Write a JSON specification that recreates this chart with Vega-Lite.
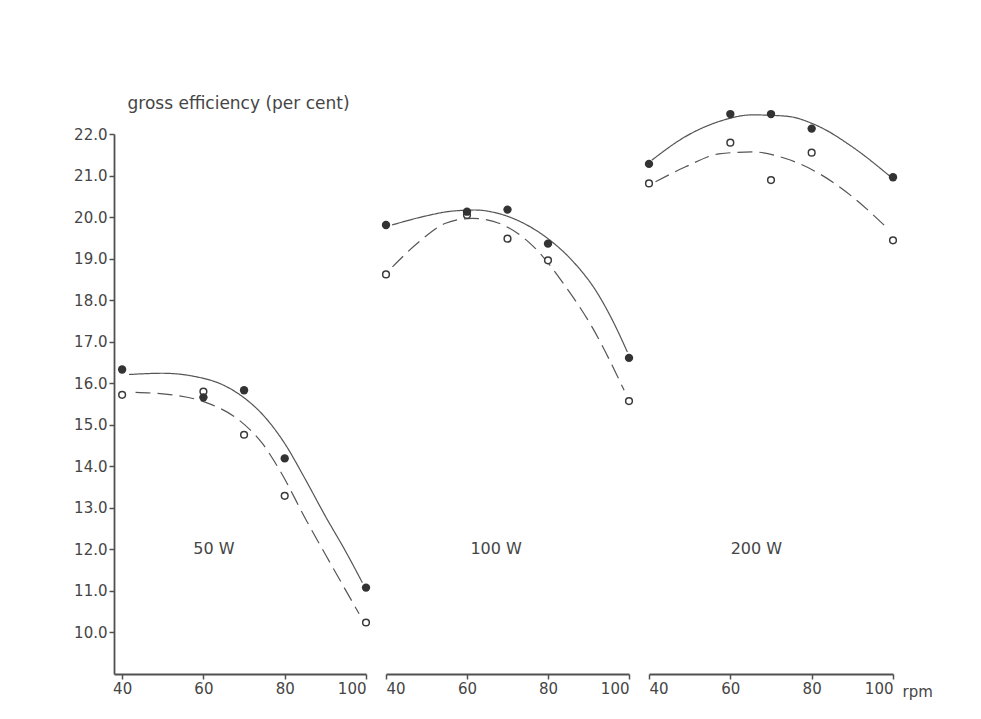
{
  "$schema": "https://vega.github.io/schema/vega-lite/v6.json",
  "background": "white",
  "padding": {"left": 73, "top": 94, "right": 5, "bottom": 5},
  "spacing": 20,
  "bounds": "flush",
  "config": {
    "view": {"stroke": null},
    "font": "DejaVu Sans",
    "axis": {
      "grid": false,
      "domainColor": "#505050",
      "domainWidth": 1.8,
      "tickColor": "#505050",
      "tickWidth": 1.5,
      "tickSize": 5,
      "labelFont": "DejaVu Sans",
      "labelFontSize": 15,
      "labelColor": "#454545",
      "labelPadding": 2,
      "titleFontWeight": "normal",
      "titleColor": "#454545"
    }
  },
  "datasets": {
    "pts": [
      {"panel": 1, "type": "filled", "rpm": 40, "eff": 16.33},
      {"panel": 1, "type": "filled", "rpm": 60, "eff": 15.66},
      {"panel": 1, "type": "filled", "rpm": 70, "eff": 15.83},
      {"panel": 1, "type": "filled", "rpm": 80, "eff": 14.19},
      {"panel": 1, "type": "filled", "rpm": 100, "eff": 11.08},
      {"panel": 1, "type": "open", "rpm": 40, "eff": 15.72},
      {"panel": 1, "type": "open", "rpm": 60, "eff": 15.8},
      {"panel": 1, "type": "open", "rpm": 70, "eff": 14.76},
      {"panel": 1, "type": "open", "rpm": 80, "eff": 13.29},
      {"panel": 1, "type": "open", "rpm": 100, "eff": 10.24},
      {"panel": 2, "type": "filled", "rpm": 40, "eff": 19.81},
      {"panel": 2, "type": "filled", "rpm": 60, "eff": 20.13},
      {"panel": 2, "type": "filled", "rpm": 70, "eff": 20.18},
      {"panel": 2, "type": "filled", "rpm": 80, "eff": 19.36},
      {"panel": 2, "type": "filled", "rpm": 100, "eff": 16.61},
      {"panel": 2, "type": "open", "rpm": 40, "eff": 18.62},
      {"panel": 2, "type": "open", "rpm": 60, "eff": 20.05},
      {"panel": 2, "type": "open", "rpm": 70, "eff": 19.48},
      {"panel": 2, "type": "open", "rpm": 80, "eff": 18.96},
      {"panel": 2, "type": "open", "rpm": 100, "eff": 15.57},
      {"panel": 3, "type": "filled", "rpm": 40, "eff": 21.28},
      {"panel": 3, "type": "filled", "rpm": 60, "eff": 22.48},
      {"panel": 3, "type": "filled", "rpm": 70, "eff": 22.48},
      {"panel": 3, "type": "filled", "rpm": 80, "eff": 22.13},
      {"panel": 3, "type": "filled", "rpm": 100, "eff": 20.96},
      {"panel": 3, "type": "open", "rpm": 40, "eff": 20.81},
      {"panel": 3, "type": "open", "rpm": 60, "eff": 21.79},
      {"panel": 3, "type": "open", "rpm": 70, "eff": 20.89},
      {"panel": 3, "type": "open", "rpm": 80, "eff": 21.55},
      {"panel": 3, "type": "open", "rpm": 100, "eff": 19.44}
    ],
    "crv": [
      {"panel": 1, "type": "filled", "rpm": 41.7, "eff": 16.21},
      {"panel": 1, "type": "filled", "rpm": 50, "eff": 16.24},
      {"panel": 1, "type": "filled", "rpm": 58, "eff": 16.16},
      {"panel": 1, "type": "filled", "rpm": 65, "eff": 15.95},
      {"panel": 1, "type": "filled", "rpm": 70, "eff": 15.65},
      {"panel": 1, "type": "filled", "rpm": 75, "eff": 15.2},
      {"panel": 1, "type": "filled", "rpm": 80, "eff": 14.55},
      {"panel": 1, "type": "filled", "rpm": 85, "eff": 13.7},
      {"panel": 1, "type": "filled", "rpm": 90, "eff": 12.8},
      {"panel": 1, "type": "filled", "rpm": 95, "eff": 11.95},
      {"panel": 1, "type": "filled", "rpm": 99.1, "eff": 11.2},
      {"panel": 1, "type": "open", "rpm": 43.3, "eff": 15.78},
      {"panel": 1, "type": "open", "rpm": 53.2, "eff": 15.71},
      {"panel": 1, "type": "open", "rpm": 61.4, "eff": 15.51},
      {"panel": 1, "type": "open", "rpm": 68.8, "eff": 15.11},
      {"panel": 1, "type": "open", "rpm": 74.5, "eff": 14.55},
      {"panel": 1, "type": "open", "rpm": 79.1, "eff": 13.85},
      {"panel": 1, "type": "open", "rpm": 85.2, "eff": 12.72},
      {"panel": 1, "type": "open", "rpm": 91.8, "eff": 11.57},
      {"panel": 1, "type": "open", "rpm": 98.3, "eff": 10.45},
      {"panel": 2, "type": "filled", "rpm": 41.5, "eff": 19.81},
      {"panel": 2, "type": "filled", "rpm": 50, "eff": 20.03},
      {"panel": 2, "type": "filled", "rpm": 56, "eff": 20.14},
      {"panel": 2, "type": "filled", "rpm": 62, "eff": 20.17},
      {"panel": 2, "type": "filled", "rpm": 68, "eff": 20.08},
      {"panel": 2, "type": "filled", "rpm": 74, "eff": 19.85},
      {"panel": 2, "type": "filled", "rpm": 80, "eff": 19.48},
      {"panel": 2, "type": "filled", "rpm": 86, "eff": 18.95},
      {"panel": 2, "type": "filled", "rpm": 92, "eff": 18.2},
      {"panel": 2, "type": "filled", "rpm": 96, "eff": 17.5},
      {"panel": 2, "type": "filled", "rpm": 99.6, "eff": 16.75},
      {"panel": 2, "type": "open", "rpm": 41.6, "eff": 18.8},
      {"panel": 2, "type": "open", "rpm": 48.1, "eff": 19.4},
      {"panel": 2, "type": "open", "rpm": 54.7, "eff": 19.85},
      {"panel": 2, "type": "open", "rpm": 61.3, "eff": 19.97},
      {"panel": 2, "type": "open", "rpm": 67.9, "eff": 19.85},
      {"panel": 2, "type": "open", "rpm": 76.1, "eff": 19.32},
      {"panel": 2, "type": "open", "rpm": 84.4, "eff": 18.32},
      {"panel": 2, "type": "open", "rpm": 90.9, "eff": 17.35},
      {"panel": 2, "type": "open", "rpm": 98.8, "eff": 15.83},
      {"panel": 3, "type": "filled", "rpm": 40.7, "eff": 21.37},
      {"panel": 3, "type": "filled", "rpm": 49.0, "eff": 21.94},
      {"panel": 3, "type": "filled", "rpm": 57.2, "eff": 22.3},
      {"panel": 3, "type": "filled", "rpm": 65.4, "eff": 22.46},
      {"panel": 3, "type": "filled", "rpm": 73.6, "eff": 22.43},
      {"panel": 3, "type": "filled", "rpm": 81.8, "eff": 22.18},
      {"panel": 3, "type": "filled", "rpm": 90.0, "eff": 21.69},
      {"panel": 3, "type": "filled", "rpm": 99.4, "eff": 20.97},
      {"panel": 3, "type": "open", "rpm": 41.6, "eff": 20.85},
      {"panel": 3, "type": "open", "rpm": 49.0, "eff": 21.21},
      {"panel": 3, "type": "open", "rpm": 57.2, "eff": 21.52},
      {"panel": 3, "type": "open", "rpm": 65.4, "eff": 21.57},
      {"panel": 3, "type": "open", "rpm": 73.6, "eff": 21.41},
      {"panel": 3, "type": "open", "rpm": 81.8, "eff": 21.05},
      {"panel": 3, "type": "open", "rpm": 90.0, "eff": 20.49},
      {"panel": 3, "type": "open", "rpm": 98.2, "eff": 19.77}
    ],
    "lbl": [
      {"panel": 1, "label": "50 W"},
      {"panel": 2, "label": "100 W"},
      {"panel": 3, "label": "200 W"}
    ]
  },
  "hconcat": [
    {
      "width": 252,
      "height": 540,
      "layer": [
        {"data": {"name": "crv"}, "transform": [{"filter": "datum.panel == 1"}],
         "mark": {"type": "line", "interpolate": "monotone", "color": "#555555", "strokeWidth": 1.2, "clip": false},
         "encoding": {
           "x": {"field": "rpm", "type": "quantitative", "scale": {"domain": [38, 100], "nice": false, "zero": false},
                 "axis": {"values": [40, 60, 80, 100], "title": null}},
           "y": {"field": "eff", "type": "quantitative", "scale": {"domain": [9, 22], "nice": false, "zero": false},
                 "axis": {"values": [10, 11, 12, 13, 14, 15, 16, 17, 18, 19, 20, 21, 22], "format": ".1f",
                          "title": "gross efficiency (per cent)", "titleFont": "DejaVu Sans", "titleAngle": 0, "titleAlign": "left",
                          "titleBaseline": "middle", "titleX": 13, "titleY": -31, "titleFontSize": 17}},
           "strokeDash": {"field": "type", "type": "nominal", "scale": {"domain": ["filled", "open"], "range": [[1, 0], [15, 7]]}, "legend": null}}},
        {"data": {"name": "pts"}, "transform": [{"filter": "datum.panel == 1 && datum.type == 'open'"}],
         "mark": {"type": "point", "shape": "circle", "size": 45, "filled": false, "fill": "white", "fillOpacity": 1, "stroke": "#3a3a3a", "strokeWidth": 1.5, "opacity": 1, "clip": false},
         "encoding": {"x": {"field": "rpm", "type": "quantitative"}, "y": {"field": "eff", "type": "quantitative"}}},
        {"data": {"name": "pts"}, "transform": [{"filter": "datum.panel == 1 && datum.type == 'filled'"}],
         "mark": {"type": "circle", "size": 70, "color": "#333333", "opacity": 1, "clip": false},
         "encoding": {"x": {"field": "rpm", "type": "quantitative"}, "y": {"field": "eff", "type": "quantitative"}}},
        {"data": {"name": "lbl"}, "transform": [{"filter": "datum.panel == 1"}],
         "mark": {"type": "text", "fontSize": 16, "color": "#454545"},
         "encoding": {"x": {"datum": 62.6, "type": "quantitative"}, "y": {"datum": 12.0, "type": "quantitative"}, "text": {"field": "label"}}}
      ]
    },
    {
      "width": 243,
      "height": 540,
      "layer": [
        {"data": {"name": "crv"}, "transform": [{"filter": "datum.panel == 2"}],
         "mark": {"type": "line", "interpolate": "monotone", "color": "#555555", "strokeWidth": 1.2, "clip": false},
         "encoding": {
           "x": {"field": "rpm", "type": "quantitative", "scale": {"domain": [40, 100], "nice": false, "zero": false},
                 "axis": {"values": [40, 60, 80, 100], "title": null}},
           "y": {"field": "eff", "type": "quantitative", "scale": {"domain": [9, 22], "nice": false, "zero": false}, "axis": null},
           "strokeDash": {"field": "type", "type": "nominal", "scale": {"domain": ["filled", "open"], "range": [[1, 0], [15, 7]]}, "legend": null}}},
        {"data": {"name": "pts"}, "transform": [{"filter": "datum.panel == 2 && datum.type == 'open'"}],
         "mark": {"type": "point", "shape": "circle", "size": 45, "filled": false, "fill": "white", "fillOpacity": 1, "stroke": "#3a3a3a", "strokeWidth": 1.5, "opacity": 1, "clip": false},
         "encoding": {"x": {"field": "rpm", "type": "quantitative"}, "y": {"field": "eff", "type": "quantitative"}}},
        {"data": {"name": "pts"}, "transform": [{"filter": "datum.panel == 2 && datum.type == 'filled'"}],
         "mark": {"type": "circle", "size": 70, "color": "#333333", "opacity": 1, "clip": false},
         "encoding": {"x": {"field": "rpm", "type": "quantitative"}, "y": {"field": "eff", "type": "quantitative"}}},
        {"data": {"name": "lbl"}, "transform": [{"filter": "datum.panel == 2"}],
         "mark": {"type": "text", "fontSize": 16, "color": "#454545"},
         "encoding": {"x": {"datum": 67.2, "type": "quantitative"}, "y": {"datum": 12.0, "type": "quantitative"}, "text": {"field": "label"}}}
      ]
    },
    {
      "width": 244,
      "height": 540,
      "layer": [
        {"data": {"name": "crv"}, "transform": [{"filter": "datum.panel == 3"}],
         "mark": {"type": "line", "interpolate": "monotone", "color": "#555555", "strokeWidth": 1.2, "clip": false},
         "encoding": {
           "x": {"field": "rpm", "type": "quantitative", "scale": {"domain": [40, 100], "nice": false, "zero": false},
                 "axis": {"values": [40, 60, 80, 100], "title": "rpm", "titleFont": "DejaVu Sans", "titleFontSize": 15, "titleAngle": 0,
                          "titleAlign": "left", "titleBaseline": "middle", "titleX": 253, "titleY": 17}},
           "y": {"field": "eff", "type": "quantitative", "scale": {"domain": [9, 22], "nice": false, "zero": false}, "axis": null},
           "strokeDash": {"field": "type", "type": "nominal", "scale": {"domain": ["filled", "open"], "range": [[1, 0], [15, 7]]}, "legend": null}}},
        {"data": {"name": "pts"}, "transform": [{"filter": "datum.panel == 3 && datum.type == 'open'"}],
         "mark": {"type": "point", "shape": "circle", "size": 45, "filled": false, "fill": "white", "fillOpacity": 1, "stroke": "#3a3a3a", "strokeWidth": 1.5, "opacity": 1, "clip": false},
         "encoding": {"x": {"field": "rpm", "type": "quantitative"}, "y": {"field": "eff", "type": "quantitative"}}},
        {"data": {"name": "pts"}, "transform": [{"filter": "datum.panel == 3 && datum.type == 'filled'"}],
         "mark": {"type": "circle", "size": 70, "color": "#333333", "opacity": 1, "clip": false},
         "encoding": {"x": {"field": "rpm", "type": "quantitative"}, "y": {"field": "eff", "type": "quantitative"}}},
        {"data": {"name": "lbl"}, "transform": [{"filter": "datum.panel == 3"}],
         "mark": {"type": "text", "fontSize": 16, "color": "#454545"},
         "encoding": {"x": {"datum": 66.4, "type": "quantitative"}, "y": {"datum": 12.0, "type": "quantitative"}, "text": {"field": "label"}}}
      ]
    }
  ]
}
